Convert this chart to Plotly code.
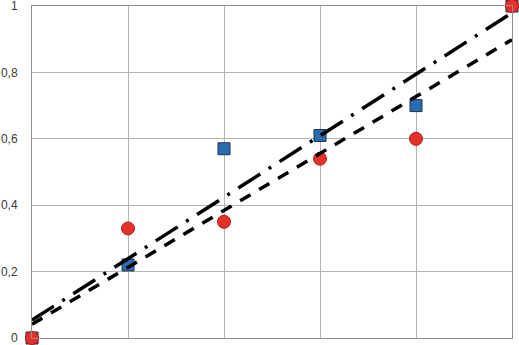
import numpy as np
import plotly.graph_objects as go

x_vals = [0, 0.2, 0.4, 0.6, 0.8, 1.0]
blue_y = [0, 0.22, 0.57, 0.61, 0.70, 1.0]
red_y = [0, 0.33, 0.35, 0.54, 0.60, 1.0]
y_ticks = [0, 0.2, 0.4, 0.6, 0.8, 1]
y_labels = ["0", "0,2", "0,4", "0,6", "0,8", "1"]
x_grid = [0, 0.2, 0.4, 0.6, 0.8, 1.0]

bslope, bint = np.polyfit(x_vals, blue_y, 1)
rslope, rint = np.polyfit(x_vals, red_y, 1)
fit_x = [0, 1]

fig = go.Figure()
blue_colors = ["#e8302a", "#2b6cb0", "#2b6cb0", "#2b6cb0", "#2b6cb0", "#e8302a"]
fig.add_trace(go.Scatter(x=x_vals, y=blue_y, mode="markers",
                         marker=dict(symbol="square", size=12, color=blue_colors,
                                     line=dict(color="#1d3550", width=1)),
                         cliponaxis=False, showlegend=False))
fig.add_trace(go.Scatter(x=x_vals, y=red_y, mode="markers",
                         marker=dict(symbol="circle", size=13, color="#e8302a",
                                     line=dict(color="#a52020", width=1)),
                         cliponaxis=False, showlegend=False))
fig.add_trace(go.Scatter(x=fit_x, y=[bint + bslope * v for v in fit_x], mode="lines",
                         line=dict(color="black", width=3.5, dash="26px,10px,3px,10px"),
                         showlegend=False))
fig.add_trace(go.Scatter(x=fit_x, y=[rint + rslope * v for v in fit_x], mode="lines",
                         line=dict(color="black", width=3.5, dash="12px,10px"),
                         showlegend=False))

fig.update_layout(
    width=519, height=345,
    margin=dict(l=32, r=7, t=6, b=7, autoexpand=False),
    paper_bgcolor="white", plot_bgcolor="white",
    separators=", ",
    font=dict(family="Liberation Sans, Arial, sans-serif", size=12, color="#3a3a3a"),
)
fig.update_xaxes(range=[0, 1], tickvals=x_grid, showticklabels=False, automargin=False,
                 showgrid=True, gridcolor="#b4b4b4", gridwidth=1, zeroline=False,
                 showline=True, linecolor="#909090", linewidth=1, mirror=True)
fig.update_yaxes(range=[0, 1], tickvals=y_ticks, ticktext=y_labels, automargin=False,
                 showgrid=True, gridcolor="#b4b4b4", gridwidth=1, zeroline=False,
                 showline=True, linecolor="#909090", linewidth=1, mirror=True,
                 ticks="", ticklabelstandoff=11, ticklabeloverflow="allow")

fig.write_html("out.html", config={"displayModeBar": False},
               post_script="document.body.style.margin='0';document.body.style.overflow='hidden';")
